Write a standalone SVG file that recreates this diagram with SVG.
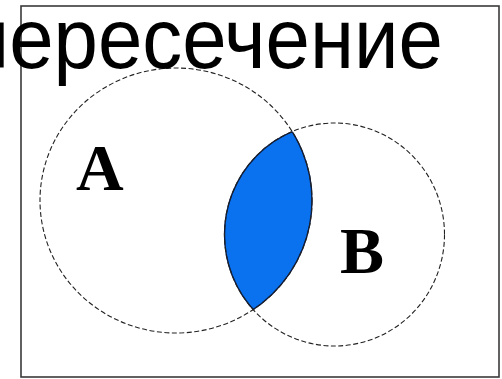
<svg xmlns="http://www.w3.org/2000/svg" width="502" height="379" viewBox="0 0 502 379">
  <style>
    .frame { fill: #ffffff; stroke: #3a3a3a; stroke-width: 1.6; }
    .set { fill: none; stroke: #222222; stroke-width: 1.1; stroke-dasharray: 5 2.5; }
    .lens { fill: #0b72ef; }
    .lensEdge { fill: none; stroke: #0a1a40; stroke-width: 1.4; }
    .label { font-family: "Liberation Serif", "Times New Roman", serif; font-weight: bold; font-size: 66px; fill: #000000; }
    .title { font-family: "Liberation Sans", Arial, sans-serif; font-size: 86px; fill: #000000; }
  </style>
  <defs>
    <clipPath id="clipA"><ellipse cx="176" cy="200.5" rx="136" ry="132.5"/></clipPath>
    <clipPath id="clipB"><ellipse cx="334.5" cy="234.5" rx="110" ry="111.5"/></clipPath>
  </defs>
  <rect class="frame" x="21" y="6" width="478" height="371"/>
  <g id="intersection">
    <ellipse class="lens" cx="176" cy="200.5" rx="136" ry="132.5" clip-path="url(#clipB)"/>
    <ellipse class="lensEdge" cx="176" cy="200.5" rx="136" ry="132.5" clip-path="url(#clipB)"/>
    <ellipse class="lensEdge" cx="334.5" cy="234.5" rx="110" ry="111.5" clip-path="url(#clipA)"/>
  </g>
  <g id="setA">
    <ellipse class="set" cx="176" cy="200.5" rx="136" ry="132.5"/>
    <text class="label" x="76" y="190">A</text>
  </g>
  <g id="setB">
    <ellipse class="set" cx="334.5" cy="234.5" rx="110" ry="111.5"/>
    <text class="label" x="340" y="273">B</text>
  </g>
  <g id="connectors"/>
  <text class="title" x="-34" y="68" textLength="477" lengthAdjust="spacingAndGlyphs">пересечение</text>
</svg>
